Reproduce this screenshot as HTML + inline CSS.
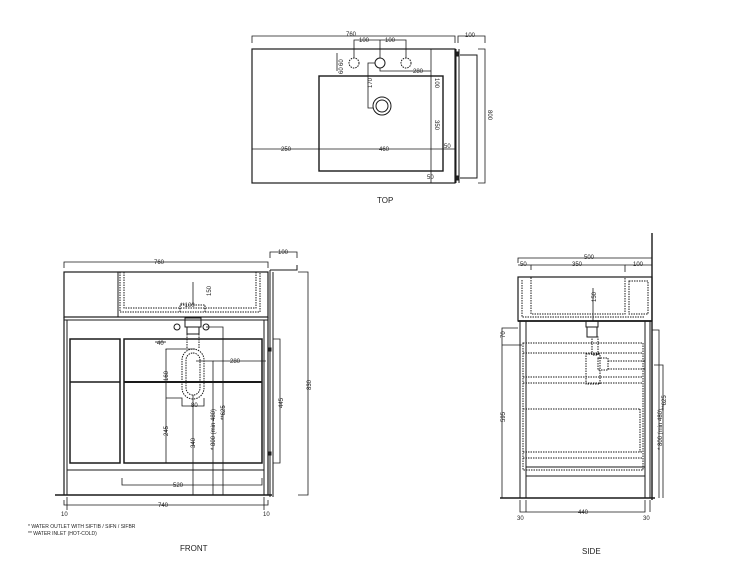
<!DOCTYPE html>
<html><head><meta charset="utf-8"><style>
html,body{margin:0;padding:0;background:#fff;}
svg{display:block}
text{font-family:"Liberation Sans",sans-serif;fill:#222;}
.s{font-size:6px}
.t{font-size:8px}
</style></head><body>
<svg width="750" height="563" viewBox="0 0 750 563" xmlns="http://www.w3.org/2000/svg">
<g fill="none" stroke="#1a1a1a" stroke-width="1">
<!-- TOP VIEW -->
<rect x="252" y="49" width="203" height="134" stroke-width="1.2"/>
<rect x="319" y="76" width="124" height="95" stroke-width="1.4"/>
<line x1="456" y1="49" x2="456" y2="183"/>
<line x1="459" y1="49" x2="459" y2="183"/>
<polyline points="460,55 477,55 477,178 460,178"/>
<rect x="456" y="52" width="3" height="4" fill="#222"/>
<rect x="456" y="176" width="3" height="4" fill="#222"/>
<polyline points="252,43 252,36 455,36 455,43" stroke-width="0.8"/>
<polyline points="458,43 458,36 485,36 485,43" stroke-width="0.8"/>
<polyline points="478,49 485,49 485,183 478,183" stroke-width="0.8"/>
<circle cx="354" cy="63" r="5" stroke-dasharray="1.5 1"/>
<circle cx="380" cy="63" r="5"/>
<circle cx="406" cy="63" r="5" stroke-dasharray="1.5 1"/>
<polyline points="354,58 354,40 406,40 406,58" stroke-width="0.8"/>
<line x1="380" y1="40" x2="380" y2="58" stroke-width="0.8"/>
<circle cx="382" cy="106" r="9"/><circle cx="382" cy="106" r="6"/>
<polyline points="375,63 368,63 368,108 373,108" stroke-width="0.8"/>
<polyline points="380,68 380,71 431,71" stroke-width="0.8"/>
<line x1="431" y1="49" x2="431" y2="183" stroke-width="0.8"/>
<line x1="252" y1="149" x2="455" y2="149" stroke-width="0.8"/>
<line x1="337" y1="53" x2="337" y2="71" stroke-width="0.8"/>
<!-- FRONT VIEW -->
<polyline points="64,268 64,262 268,262 268,268" stroke-width="0.8"/>
<rect x="64" y="272" width="204" height="45" stroke-width="1.2"/>
<line x1="118" y1="272" x2="118" y2="317"/>
<polyline points="120,272 120,312 260,312 260,272" stroke-dasharray="1.5 1"/>
<polyline points="124,272 124,308 256,308 256,272" stroke-dasharray="1.5 1"/>
<line x1="64" y1="317" x2="64" y2="495" stroke-width="1.2"/>
<line x1="67" y1="320" x2="67" y2="495"/>
<line x1="264" y1="320" x2="264" y2="495"/>
<line x1="268" y1="317" x2="268" y2="495" stroke-width="1.2"/>
<line x1="64" y1="320" x2="268" y2="320"/>
<rect x="70" y="339" width="50" height="124" stroke-width="1.5"/>
<line x1="70" y1="382" x2="120" y2="382" stroke-width="1.5"/>
<rect x="124" y="339" width="138" height="124" stroke-width="1.5"/>
<line x1="124" y1="382" x2="262" y2="382" stroke-width="1.9"/>
<line x1="67" y1="470" x2="264" y2="470"/>
<line x1="55" y1="495" x2="272" y2="495" stroke-width="1.6"/>
<line x1="270" y1="270" x2="270" y2="497"/>
<line x1="273" y1="272" x2="273" y2="497"/>
<polyline points="270,270 297,270 297,265" />
<polyline points="270,258 270,252 297,252 297,258" stroke-width="0.8"/>
<polyline points="298,272 308,272 308,495 298,495" stroke-width="0.8"/>
<polyline points="273,339 280,339 280,463 273,463" stroke-width="0.8"/>
<rect x="268" y="348" width="3" height="3" fill="#222"/>
<rect x="268" y="452" width="3" height="3" fill="#222"/>
<polyline points="64,500 64,505 268,505 268,500" stroke-width="0.8"/>
<line x1="67" y1="497" x2="67" y2="510" stroke-width="0.8"/>
<line x1="264" y1="497" x2="264" y2="510" stroke-width="0.8"/>
<polyline points="122,478 122,485 262,485 262,478" stroke-width="0.8"/>
<polyline points="180,312 180,305 205,305 205,312" stroke-dasharray="1.5 1"/>
<rect x="185" y="318" width="16" height="9"/>
<rect x="187" y="327" width="12" height="7"/>
<circle cx="177" cy="327" r="3"/><circle cx="206" cy="327" r="3"/>
<rect x="182" y="349" width="22" height="50" rx="11" stroke-dasharray="1.5 1"/>
<rect x="186" y="353" width="14" height="42" rx="7" stroke-dasharray="1.5 1"/>
<line x1="187" y1="334" x2="187" y2="349" stroke-dasharray="1.5 1"/>
<line x1="199" y1="334" x2="199" y2="349" stroke-dasharray="1.5 1"/>
<polyline points="166,350 166,349 195,349" stroke-width="0.8"/>
<line x1="166" y1="349" x2="166" y2="463" stroke-width="0.8"/>
<polyline points="166,398 182,398 182,406 204,406 204,398" stroke-width="0.8"/>
<line x1="193" y1="395" x2="193" y2="495" stroke-width="0.8"/>
<polyline points="206,327 223,327 223,495" stroke-width="0.8"/>
<polyline points="196,361 213,361 213,495" stroke-width="0.8"/>
<line x1="213" y1="361" x2="266" y2="361" stroke-width="0.8"/>
<line x1="155" y1="342" x2="166" y2="342" stroke-width="0.8"/>
<line x1="193" y1="282" x2="193" y2="305" stroke-width="0.8"/>
<!-- SIDE VIEW -->
<line x1="652" y1="233" x2="652" y2="500" stroke-width="1.4"/>
<polyline points="518,263 518,258 652,258" stroke-width="0.8"/>
<polyline points="518,265 531,265 531,270" stroke-width="0.8"/>
<polyline points="531,265 625,265 625,272" stroke-width="0.8"/>
<line x1="625" y1="265" x2="652" y2="265" stroke-width="0.8"/>
<rect x="518" y="277" width="134" height="44" stroke-width="1.2"/>
<polyline points="522,280 522,317 645,317" stroke-dasharray="1.5 1"/>
<rect x="531" y="277" width="94" height="37" stroke-dasharray="1.5 1"/>
<rect x="629" y="281" width="19" height="33" stroke-dasharray="1.5 1"/>
<line x1="518" y1="321" x2="652" y2="321" stroke-width="1.8"/>
<line x1="520" y1="321" x2="520" y2="498"/>
<line x1="526" y1="321" x2="526" y2="498"/>
<rect x="645" y="321" width="5" height="177"/>
<line x1="526" y1="467" x2="645" y2="467"/>
<line x1="526" y1="476" x2="645" y2="476"/>
<line x1="500" y1="498" x2="655" y2="498" stroke-width="1.6"/>
<rect x="523" y="343" width="120" height="127" stroke-dasharray="1.5 1"/>
<line x1="523" y1="353" x2="643" y2="353" stroke-dasharray="1.5 1"/>
<line x1="523" y1="377" x2="643" y2="377" stroke-dasharray="1.5 1"/>
<line x1="523" y1="383" x2="643" y2="383" stroke-dasharray="1.5 1"/>
<line x1="523" y1="409" x2="640" y2="409" stroke-dasharray="1.5 1"/>
<line x1="640" y1="409" x2="640" y2="452" stroke-dasharray="1.5 1"/>
<line x1="523" y1="452" x2="643" y2="452" stroke-dasharray="1.5 1"/>
<line x1="523" y1="458" x2="643" y2="458" stroke-dasharray="1.5 1"/>
<rect x="586" y="321" width="12" height="6"/>
<rect x="587" y="327" width="10" height="10"/>
<rect x="592" y="337" width="6" height="18" stroke-dasharray="1.5 1"/>
<rect x="586" y="354" width="14" height="30" stroke-dasharray="1.5 1"/>
<rect x="598" y="358" width="10" height="12" stroke-dasharray="1.5 1"/>
<line x1="608" y1="361" x2="645" y2="361" stroke-dasharray="1.5 1"/>
<line x1="608" y1="369" x2="645" y2="369" stroke-dasharray="1.5 1"/>
<line x1="593" y1="288" x2="593" y2="321" stroke-width="0.8"/>
<polyline points="518,328 502,328 502,498" stroke-width="0.8"/>
<line x1="502" y1="345" x2="522" y2="345" stroke-width="0.8"/>
<polyline points="652,330 659,330 659,498" stroke-width="0.8"/>
<polyline points="654,365 663,365 663,498" stroke-width="0.8"/>
<polyline points="520,500 520,512 645,512 645,500" stroke-width="0.8"/>
<line x1="526" y1="500" x2="526" y2="512" stroke-width="0.8"/>
<line x1="650" y1="500" x2="650" y2="512" stroke-width="0.8"/>
</g>
<g class="s">
<text x="346" y="36">760</text>
<text x="465" y="37">100</text>
<text x="359" y="42">100</text><text x="385" y="42">100</text>
<text x="413" y="73">280</text>
<text x="281" y="151">250</text><text x="379" y="151">460</text><text x="444" y="148">50</text>
<text x="427" y="179">50</text>
<text transform="translate(435,78) rotate(90)">100</text>
<text transform="translate(435,120) rotate(90)">350</text>
<text transform="translate(372,88) rotate(-90)">170</text>
<text transform="translate(343,66) rotate(-90)">60</text>
<text transform="translate(343,74) rotate(-90)">60</text>
<text transform="translate(488,110) rotate(90)">800</text>
<text x="154" y="264">760</text>
<text x="278" y="254">100</text>
<text x="180" y="307">**100</text>
<text transform="translate(211,296) rotate(-90)">150</text>
<text x="157" y="345">40</text>
<text x="230" y="363">280</text>
<text transform="translate(168,381) rotate(-90)">160</text>
<text x="191" y="407">80</text>
<text transform="translate(168,436) rotate(-90)">245</text>
<text transform="translate(195,448) rotate(-90)">340</text>
<text transform="translate(215,450) rotate(-90)">* 800 (min 480)</text>
<text transform="translate(225,420) rotate(-90)">**625</text>
<text transform="translate(283,408) rotate(-90)">445</text>
<text transform="translate(311,390) rotate(-90)">830</text>
<text x="173" y="487">520</text>
<text x="158" y="507">740</text>
<text x="61" y="516">10</text><text x="263" y="516">10</text>
<text x="584" y="259">500</text>
<text x="520" y="266">50</text><text x="572" y="266">350</text><text x="633" y="266">100</text>
<text transform="translate(596,302) rotate(-90)">150</text>
<text transform="translate(505,338) rotate(-90)">70</text>
<text transform="translate(505,422) rotate(-90)">595</text>
<text transform="translate(662,450) rotate(-90)">* 800 (min 480)</text>
<text transform="translate(666,410) rotate(-90)">**625</text>
<text x="578" y="514">440</text>
<text x="517" y="520">30</text><text x="643" y="520">30</text>
<text x="28" y="528" style="font-size:5px">* WATER OUTLET WITH SIFTIB / SIFN / SIFBR</text>
<text x="28" y="535" style="font-size:5px">** WATER INLET (HOT-COLD)</text>
</g>
<text class="t" x="377" y="203">TOP</text>
<text class="t" x="180" y="551">FRONT</text>
<text class="t" x="582" y="554">SIDE</text>
</svg>
</body></html>
